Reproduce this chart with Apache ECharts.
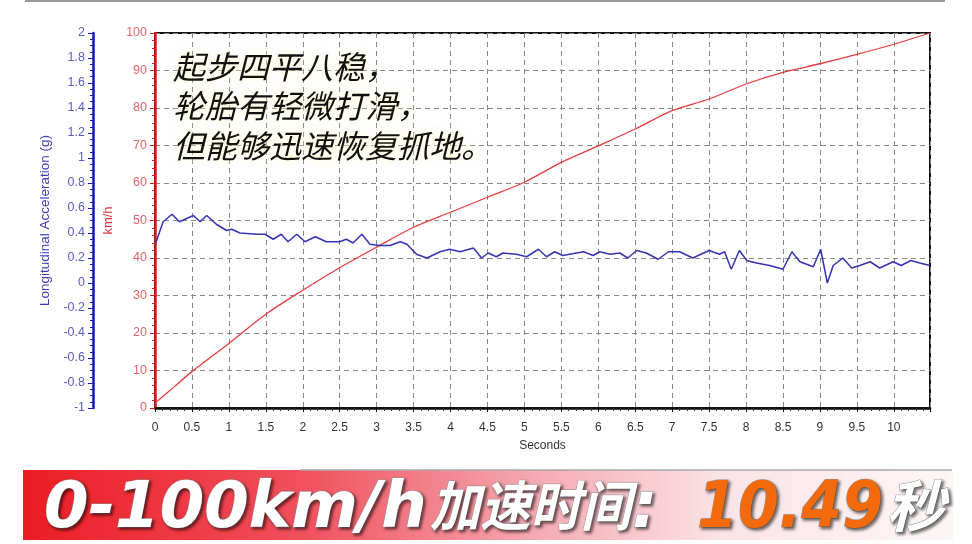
<!DOCTYPE html>
<html>
<head>
<meta charset="utf-8">
<title>0-100km/h 加速测试</title>
<script src="https://cdn.jsdelivr.net/npm/echarts@6.0.0/dist/echarts.min.js"></script>
<style>
    html, body { margin: 0; padding: 0; background: #fff; }
    #main { width: 972px; height: 544px; }
</style>
</head>
<body>
<div id="main"></div>
<script>
    // 车速曲线 (km/h)
    var speedTime = [0, 0.25, 0.5, 1, 1.5, 2, 2.5, 3, 3.5, 4, 4.5, 5, 5.5, 6, 6.5, 7, 7.5, 8, 8.5, 9, 9.5, 10, 10.49];
    var speedKmh = [1.3, 5.5, 9.7, 17.2, 25.0, 31.4, 37.4, 42.9, 48.2, 52.2, 56.2, 60.2, 65.5, 69.9, 74.4, 79.3, 82.4, 86.4, 89.5, 91.8, 94.3, 97.0, 100];

    // 纵向加速度 (g)
    var accelTime = [0.01, 0.11, 0.23, 0.33, 0.52, 0.61, 0.70, 0.83, 0.97, 1.04, 1.15, 1.38, 1.49, 1.60, 1.71, 1.80, 1.92, 2.03, 2.17, 2.32,
        2.50, 2.59, 2.68, 2.80, 2.91, 3.04, 3.18, 3.32, 3.41, 3.54, 3.68, 3.86, 3.99, 4.13, 4.31, 4.42, 4.51, 4.62, 4.71, 4.89,
        5.03, 5.19, 5.30, 5.41, 5.52, 5.80, 5.93, 6.02, 6.16, 6.29, 6.40, 6.52, 6.65, 6.81, 6.95, 7.10, 7.28, 7.50, 7.64, 7.71,
        7.80, 7.91, 8.01, 8.14, 8.32, 8.50, 8.62, 8.73, 8.91, 9.01, 9.10, 9.18, 9.31, 9.43, 9.54, 9.68, 9.81, 9.99, 10.10, 10.23,
        10.35, 10.49];
    var accelG = [0.32, 0.49, 0.55, 0.49, 0.54, 0.49, 0.54, 0.47, 0.42, 0.43, 0.40, 0.39, 0.39, 0.35, 0.39, 0.33, 0.39, 0.33, 0.37, 0.33,
        0.33, 0.35, 0.32, 0.39, 0.31, 0.30, 0.30, 0.33, 0.31, 0.23, 0.20, 0.25, 0.27, 0.25, 0.28, 0.20, 0.24, 0.21, 0.24, 0.23,
        0.21, 0.27, 0.21, 0.25, 0.22, 0.25, 0.22, 0.25, 0.23, 0.24, 0.20, 0.26, 0.24, 0.19, 0.25, 0.25, 0.20, 0.26, 0.23, 0.25,
        0.11, 0.26, 0.18, 0.16, 0.14, 0.11, 0.25, 0.17, 0.13, 0.27, 0.00, 0.14, 0.20, 0.12, 0.14, 0.17, 0.12, 0.17, 0.14, 0.18,
        0.16, 0.14];

    var noteLines = ['起步四平八稳，', '轮胎有轻微打滑，', '但能够迅速恢复抓地。'];
    var resultTime = '10.49';

    var pairs = function (xs, ys) {
        var out = [];
        for (var i = 0; i < xs.length; i++) {
            out.push([xs[i], ys[i]]);
        }
        return out;
    };

    var gridLine = { show: true, lineStyle: { color: '#888', type: [5, 4], width: 1 } };

    var bannerText = function (x, text, size, family, fill, scaleX) {
        return {
            type: 'text', x: x, y: 478, scaleX: scaleX || 1, z: 20,
            style: {
                text: text, fill: fill, fontSize: size, fontFamily: family,
                fontWeight: 'bold', fontStyle: 'italic',
                stroke: '#9a9a9a', lineWidth: 1,
                textShadowColor: 'rgba(0,0,0,0.55)', textShadowBlur: 3,
                textShadowOffsetX: 2, textShadowOffsetY: 2
            }
        };
    };

    var option = {
        backgroundColor: '#fff',
        animation: false,
        grid: {
            left: 155, right: 42, top: 33, bottom: 136,
            show: true, borderColor: '#111', borderWidth: 2
        },
        xAxis: {
            type: 'value', min: 0, max: 10.49, interval: 0.5,
            name: 'Seconds', nameLocation: 'middle', nameGap: 32,
            nameTextStyle: { color: '#333', fontSize: 12, fontFamily: 'Liberation Sans' },
            axisLine: { lineStyle: { color: '#111', width: 2.5 } },
            axisTick: { length: 4, lineStyle: { color: '#111' } },
            minorTick: { show: true, splitNumber: 5, length: 3, lineStyle: { color: '#333' } },
            axisLabel: { color: '#333', fontSize: 12, margin: 14, showMaxLabel: false, fontFamily: 'Liberation Sans Narrow, Liberation Sans' },
            splitLine: gridLine
        },
        yAxis: [
            {
                type: 'value', position: 'left', min: 0, max: 100, interval: 10,
                name: 'km/h', nameLocation: 'middle', nameGap: 34,
                nameTextStyle: { color: '#d33', fontSize: 13, fontFamily: 'Liberation Sans' },
                axisLine: { show: true, lineStyle: { color: '#d41a1a', width: 2.5 } },
                axisTick: { show: true, length: 5, lineStyle: { color: '#d41a1a' } },
                minorTick: { show: true, splitNumber: 5, length: 3, lineStyle: { color: '#d41a1a' } },
                axisLabel: { color: '#e06464', fontSize: 12.5, margin: 8, fontFamily: 'Liberation Sans' },
                splitLine: gridLine
            },
            {
                type: 'value', position: 'left', offset: 62, min: -1, max: 2, interval: 0.2,
                name: 'Longitudinal Acceleration (g)', nameLocation: 'middle', nameGap: 40,
                nameTextStyle: { color: '#3a3ab8', fontSize: 13.5, fontFamily: 'Liberation Sans' },
                axisLine: { show: true, lineStyle: { color: '#1414c0', width: 2.5 } },
                axisTick: { show: true, length: 5, lineStyle: { color: '#1414c0' } },
                minorTick: { show: true, splitNumber: 4, length: 3, lineStyle: { color: '#1414c0' } },
                axisLabel: { color: '#5a5ac8', fontSize: 12.5, margin: 8, fontFamily: 'Liberation Sans' },
                splitLine: { show: false }
            }
        ],
        series: [
            {
                name: 'km/h', type: 'line', yAxisIndex: 0, showSymbol: false, smooth: 0.3,
                lineStyle: { color: '#e43c3c', width: 1.3 },
                data: pairs(speedTime, speedKmh)
            },
            {
                name: 'g', type: 'line', yAxisIndex: 1, showSymbol: false,
                lineStyle: { color: '#3434b4', width: 1.5 },
                data: pairs(accelTime, accelG)
            }
        ],
        graphic: [
            // 顶部灰线
            { type: 'line', shape: { x1: 25, y1: 1, x2: 945, y2: 1 }, style: { stroke: '#9a9a9a', lineWidth: 2 } },
            // 图中说明文字
            {
                type: 'text', x: 173, y: 47, z: 20,
                style: {
                    text: noteLines.join('\n'), fill: '#111',
                    fontSize: 32, lineHeight: 39.5, fontStyle: 'italic',
                    fontFamily: 'Noto Sans CJK SC',
                    textShadowColor: '#fffbc8', textShadowBlur: 8
                }
            },
            // 底部横幅
            {
                type: 'rect', z: 10,
                shape: { x: 23, y: 470, width: 930, height: 70 },
                style: {
                    fill: new echarts.graphic.LinearGradient(0, 0, 1, 0, [
                        { offset: 0, color: '#ec1c24' },
                        { offset: 0.3, color: '#f0505c' },
                        { offset: 0.55, color: '#f5a9b2' },
                        { offset: 0.75, color: '#fbe3e6' },
                        { offset: 1, color: '#fdf6f6' }
                    ])
                }
            },
            { type: 'line', z: 11, shape: { x1: 300, y1: 470, x2: 952, y2: 470 }, style: { stroke: '#a8a8a8', lineWidth: 1.5 } },
            bannerText(44, '0-100km/h', 64, 'DejaVu Sans', '#fff'),
            bannerText(430, '加速时间', 54, 'Noto Sans CJK SC', '#fff', 0.93),
            bannerText(632, ':', 64, 'DejaVu Sans', '#fff'),
            bannerText(697, resultTime, 64, 'DejaVu Sans', '#f26a0c', 0.92),
            bannerText(886, '秒', 56, 'Noto Sans CJK SC', '#fff', 1.05)
        ]
    };

    var myChart = echarts.init(document.getElementById('main'));
    myChart.setOption(option);
</script>
</body>
</html>
